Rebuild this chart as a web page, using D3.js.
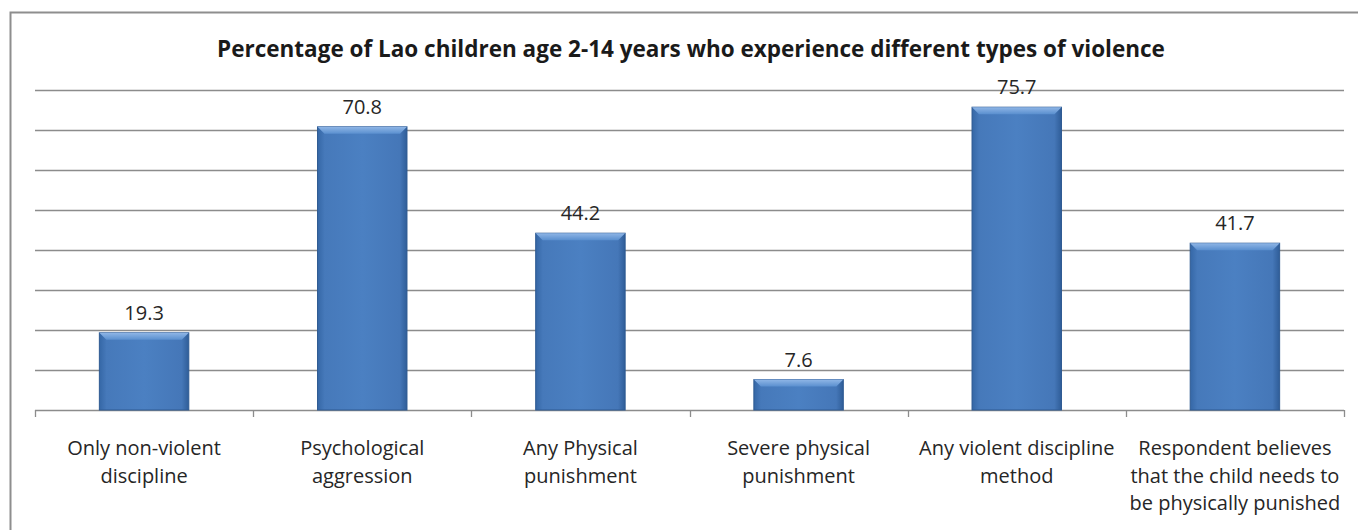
<!DOCTYPE html>
<html>
<head>
<meta charset="utf-8">
<script src="https://cdn.jsdelivr.net/npm/d3@7"></script>
<style>
  html, body { margin: 0; padding: 0; background: #fff; }
  svg { display: block; font-family: "Open Sans", "Noto Sans", sans-serif; }
</style>
</head>
<body>
<div id="chart"></div>
<script>
const title = 'Percentage of Lao children age 2-14 years who experience different types of violence';
const categories = [
  ['Only non-violent', 'discipline'],
  ['Psychological', 'aggression'],
  ['Any Physical', 'punishment'],
  ['Severe physical', 'punishment'],
  ['Any violent discipline', 'method'],
  ['Respondent believes', 'that the child needs to', 'be physically punished']
];
const values = [19.3, 70.8, 44.2, 7.6, 75.7, 41.7];
const yTicks = [0, 10, 20, 30, 40, 50, 60, 70, 80];

const width = 1358, height = 530;
const margin = { top: 90, right: 14, bottom: 120, left: 35 };
const w = width - margin.left - margin.right;
const h = height - margin.top - margin.bottom;

const svg = d3.select('#chart').append('svg')
  .attr('width', width)
  .attr('height', height);

// outer chart frame (only top and left visible in the crop)
svg.append('path')
  .attr('d', `M10.5,${height + 5} V12.5 H${width + 5}`)
  .attr('fill', 'none')
  .attr('stroke', '#8e8e8e')
  .attr('stroke-width', 2);

const defs = svg.append('defs');
const grad = defs.append('linearGradient').attr('id', 'barGrad')
  .attr('x1', '0').attr('x2', '1').attr('y1', '0').attr('y2', '0');
grad.append('stop').attr('offset', '0%').attr('stop-color', '#3567a6');
grad.append('stop').attr('offset', '8%').attr('stop-color', '#4679ba');
grad.append('stop').attr('offset', '50%').attr('stop-color', '#4b80c2');
grad.append('stop').attr('offset', '92%').attr('stop-color', '#4577b8');
grad.append('stop').attr('offset', '100%').attr('stop-color', '#2f5d98');

const topGrad = defs.append('linearGradient').attr('id', 'topGrad')
  .attr('x1', '0').attr('x2', '0').attr('y1', '0').attr('y2', '1');
topGrad.append('stop').attr('offset', '0%').attr('stop-color', '#8fb6e6');
topGrad.append('stop').attr('offset', '100%').attr('stop-color', '#5a8fcf');

const g = svg.append('g').attr('transform', `translate(${margin.left},${margin.top})`);

const x = d3.scaleBand().domain(d3.range(categories.length)).range([0, w]).padding(0);
const y = d3.scaleLinear().domain([0, 80]).range([h, 0]);

// gridlines
g.selectAll('line.grid')
  .data(yTicks.filter(d => d > 0))
  .join('line')
  .attr('class', 'grid')
  .attr('x1', 0).attr('x2', w)
  .attr('y1', d => Math.round(y(d)) + 0.5)
  .attr('y2', d => Math.round(y(d)) + 0.5)
  .attr('stroke', '#8c8c8c')
  .attr('stroke-width', 1.3);

// x axis with tick marks between categories
const xAxis = g.append('g').attr('transform', `translate(0,${h})`);
xAxis.append('line')
  .attr('x1', 0).attr('x2', w).attr('y1', 0.5).attr('y2', 0.5)
  .attr('stroke', '#8c8c8c').attr('stroke-width', 1.3);
xAxis.selectAll('line.tick')
  .data(d3.range(categories.length + 1))
  .join('line')
  .attr('class', 'tick')
  .attr('x1', i => Math.round(i * x.step()) + 0.5)
  .attr('x2', i => Math.round(i * x.step()) + 0.5)
  .attr('y1', 0).attr('y2', 7)
  .attr('stroke', '#8c8c8c').attr('stroke-width', 1.3);

// bars
const barW = x.bandwidth() * 0.41;
const bars = g.selectAll('g.bar')
  .data(values)
  .join('g')
  .attr('class', 'bar')
  .attr('transform', (d, i) => `translate(${x(i) + x.bandwidth() / 2 - barW / 2},0)`);

bars.append('rect')
  .attr('x', 0)
  .attr('y', d => y(d))
  .attr('width', barW)
  .attr('height', d => h - y(d))
  .attr('fill', 'url(#barGrad)')
  .attr('stroke', '#2e5a92')
  .attr('stroke-width', 1);

// bevel at the top edge
bars.append('path')
  .attr('d', d => {
    const t = y(d), b = 7;
    return `M0,${t} H${barW} L${barW - b},${t + b} H${b} Z`;
  })
  .attr('fill', 'url(#topGrad)');

// value labels
g.selectAll('text.val')
  .data(values)
  .join('text')
  .attr('class', 'val')
  .attr('x', (d, i) => x(i) + x.bandwidth() / 2)
  .attr('y', d => y(d) - 13)
  .attr('text-anchor', 'middle')
  .attr('font-size', 20)
  .attr('fill', '#262626')
  .text(d => d.toFixed(1));

// category labels
const catText = g.selectAll('text.cat')
  .data(categories)
  .join('text')
  .attr('class', 'cat')
  .attr('text-anchor', 'middle')
  .attr('font-size', 20)
  .attr('fill', '#262626');
catText.selectAll('tspan')
  .data((d, i) => d.map(s => ({ s, i })))
  .join('tspan')
  .attr('x', d => x(d.i) + x.bandwidth() / 2)
  .attr('y', (d, j) => h + 45 + j * 27.5)
  .text(d => d.s);

// title
svg.append('text')
  .attr('x', 691)
  .attr('y', 57)
  .attr('text-anchor', 'middle')
  .attr('font-size', 22.5)
  .attr('font-weight', 'bold')
  .attr('fill', '#1a1a1a')
  .text(title);
</script>
</body>
</html>
